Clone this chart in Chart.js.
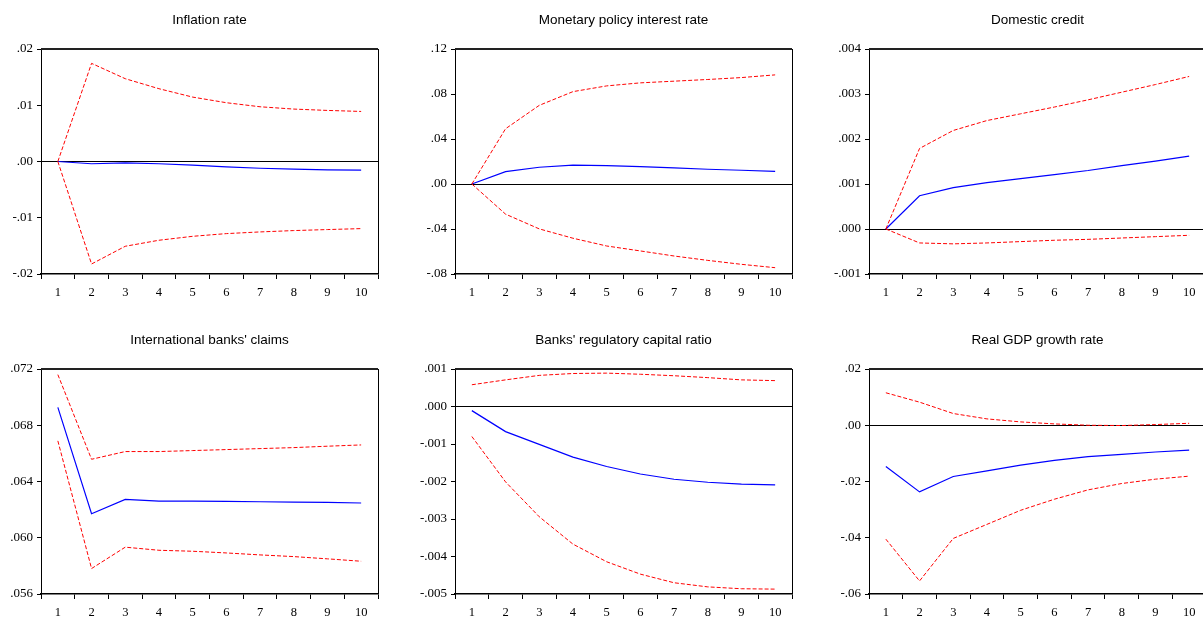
<!DOCTYPE html>
<html>
<head>
<meta charset="utf-8">
<script src="https://cdn.jsdelivr.net/npm/chart.js@4/dist/chart.umd.min.js"></script>
<style>
    body { margin: 0; background: #fff; overflow: hidden; width: 1203px; height: 617px; position: relative; }
    canvas { position: absolute; }
</style>
</head>
<body>
<canvas id="c0" width="400" height="300" style="left:0;top:0"></canvas>
<canvas id="c1" width="400" height="300" style="left:414px;top:0"></canvas>
<canvas id="c2" width="400" height="300" style="left:828px;top:0"></canvas>
<canvas id="c3" width="400" height="300" style="left:0;top:320px"></canvas>
<canvas id="c4" width="400" height="300" style="left:414px;top:320px"></canvas>
<canvas id="c5" width="400" height="300" style="left:828px;top:320px"></canvas>
<script>
    // horizon (periods after the shock)
    const periods = ['1', '2', '3', '4', '5', '6', '7', '8', '9', '10'];

    // Inflation rate
    const inflationResp  = [0, -0.0004, -0.00024, -0.0004, -0.00065, -0.00095, -0.0012, -0.00137, -0.00148, -0.00154];
    const inflationUpper = [0, 0.01745, 0.01472, 0.01294, 0.01145, 0.01045, 0.00973, 0.00932, 0.00908, 0.0089];
    const inflationLower = [0, -0.01822, -0.01507, -0.0140, -0.0133, -0.01282, -0.01252, -0.01228, -0.0121, -0.01193];
    const inflationTicks = [-0.02, -0.01, 0, 0.01, 0.02];
    const inflationTickLabels = ['-.02', '-.01', '.00', '.01', '.02'];

    // Monetary policy interest rate
    const policyResp  = [0, 0.0110, 0.0149, 0.0167, 0.0164, 0.0155, 0.0143, 0.0131, 0.0122, 0.0113];
    const policyUpper = [0, 0.0491, 0.0699, 0.0821, 0.0872, 0.0899, 0.0914, 0.0929, 0.0946, 0.0970];
    const policyLower = [0, -0.0268, -0.0399, -0.0482, -0.0551, -0.0595, -0.0640, -0.0679, -0.0714, -0.0744];
    const policyTicks = [-0.08, -0.04, 0, 0.04, 0.08, 0.12];
    const policyTickLabels = ['-.08', '-.04', '.00', '.04', '.08', '.12'];

    // Domestic credit
    const creditResp  = [0, 0.00074, 0.00092, 0.00103, 0.00112, 0.00121, 0.0013, 0.00141, 0.00151, 0.00162];
    const creditUpper = [0, 0.00179, 0.00219, 0.00241, 0.00256, 0.00271, 0.00287, 0.00304, 0.00321, 0.00339];
    const creditLower = [0, -0.00031, -0.00033, -0.00031, -0.00028, -0.00025, -0.00023, -0.0002, -0.00017, -0.00014];
    const creditTicks = [-0.001, 0, 0.001, 0.002, 0.003, 0.004];
    const creditTickLabels = ['-.001', '.000', '.001', '.002', '.003', '.004'];

    // International banks' claims
    const claimsResp  = [0.06927, 0.06171, 0.06273, 0.06261, 0.06261, 0.06258, 0.06256, 0.06254, 0.06251, 0.06247];
    const claimsUpper = [0.0716, 0.06558, 0.06613, 0.06613, 0.0662, 0.06627, 0.06634, 0.06641, 0.06651, 0.0666];
    const claimsLower = [0.06689, 0.05781, 0.05933, 0.05911, 0.05904, 0.05892, 0.05878, 0.05866, 0.0585, 0.05833];
    const claimsTicks = [0.056, 0.060, 0.064, 0.068, 0.072];
    const claimsTickLabels = ['.056', '.060', '.064', '.068', '.072'];

    // Banks' regulatory capital ratio
    const capitalResp  = [-0.00011, -0.00067, -0.00101, -0.00135, -0.0016, -0.0018, -0.00194, -0.00202, -0.00207, -0.00209];
    const capitalUpper = [0.00058, 0.00071, 0.00083, 0.00088, 0.00089, 0.00086, 0.00082, 0.00077, 0.00071, 0.00069];
    const capitalLower = [-0.0008, -0.00201, -0.00294, -0.00367, -0.00414, -0.00447, -0.0047, -0.00481, -0.00486, -0.00487];
    const capitalTicks = [-0.005, -0.004, -0.003, -0.002, -0.001, 0, 0.001];
    const capitalTickLabels = ['-.005', '-.004', '-.003', '-.002', '-.001', '.000', '.001'];

    // Real GDP growth rate
    const gdpResp  = [-0.01464, -0.02369, -0.01821, -0.01619, -0.01417, -0.0125, -0.01119, -0.01036, -0.00952, -0.00881];
    const gdpUpper = [0.01155, 0.00821, 0.00417, 0.00226, 0.00119, 0.00048, 0.0, -0.0001, 0.00024, 0.0007];
    const gdpLower = [-0.0405, -0.05536, -0.04024, -0.03524, -0.03024, -0.0263, -0.02298, -0.02071, -0.01917, -0.0181];
    const gdpTicks = [-0.06, -0.04, -0.02, 0, 0.02];
    const gdpTickLabels = ['-.06', '-.04', '-.02', '.00', '.02'];

    const serif = '"Liberation Serif", "Times New Roman", serif';
    const sans = '"Liberation Sans", Arial, sans-serif';

    // top + right frame of the plot box
    const boxFrame = {
        id: 'boxFrame',
        afterDraw: function (chart) {
            const a = chart.chartArea;
            const ctx = chart.ctx;
            ctx.save();
            ctx.strokeStyle = '#222';
            ctx.lineWidth = 2;
            ctx.beginPath();
            ctx.moveTo(a.left, a.top);
            ctx.lineTo(a.right, a.top);
            ctx.stroke();
            ctx.lineWidth = 1;
            ctx.strokeStyle = '#000';
            ctx.beginPath();
            ctx.moveTo(a.right + 0.5, a.top);
            ctx.lineTo(a.right + 0.5, a.bottom);
            ctx.stroke();
            ctx.restore();
        }
    };

    function makePanel(id, title, resp, upper, lower, ticks, tickLabels) {
        const ctx = document.getElementById(id).getContext('2d');
        const band = {
            borderColor: '#ff0000',
            borderWidth: 1,
            borderDash: [4, 2],
            pointRadius: 0,
            tension: 0,
            fill: false
        };
        return new Chart(ctx, {
            type: 'line',
            data: {
                labels: periods,
                datasets: [
                    Object.assign({ label: 'Upper', data: upper }, band),
                    Object.assign({ label: 'Lower', data: lower }, band),
                    {
                        label: 'Response',
                        data: resp,
                        borderColor: '#0000ff',
                        borderWidth: 1.2,
                        pointRadius: 0,
                        tension: 0,
                        fill: false
                    }
                ]
            },
            options: {
                responsive: false,
                animation: false,
                layout: { padding: { left: 0, right: 22, top: 0, bottom: 0 } },
                plugins: {
                    legend: { display: false },
                    tooltip: { enabled: false },
                    title: {
                        display: true,
                        text: title,
                        color: '#000',
                        fullSize: false,
                        font: { family: sans, size: 13.5, weight: 'normal' },
                        padding: { top: 12, bottom: 20.8 }
                    }
                },
                scales: {
                    x: {
                        type: 'category',
                        offset: true,
                        grid: {
                            offset: true,
                            drawOnChartArea: false,
                            drawTicks: true,
                            tickLength: 5,
                            color: '#000'
                        },
                        border: { display: true, color: '#000', width: 1.5 },
                        ticks: {
                            color: '#000',
                            font: { family: serif, size: 12.5 },
                            padding: 6,
                            maxRotation: 0,
                            autoSkip: false
                        },
                        afterFit: function (s) { s.height = 26; }
                    },
                    y: {
                        type: 'linear',
                        min: ticks[0],
                        max: ticks[ticks.length - 1],
                        afterBuildTicks: function (s) {
                            s.ticks = ticks.map(v => ({ value: v }));
                        },
                        grid: {
                            drawTicks: true,
                            tickLength: 4,
                            tickColor: '#000',
                            lineWidth: 1,
                            color: function (c) {
                                return c.tick && c.tick.value === 0 ? '#000' : 'rgba(0,0,0,0)';
                            }
                        },
                        border: { display: true, color: '#000', width: 1 },
                        ticks: {
                            color: '#000',
                            font: { family: serif, size: 13 },
                            padding: 4,
                            callback: function (value, index) {
                                return tickLabels[index];
                            }
                        },
                        afterFit: function (s) { s.width = 41; }
                    }
                }
            },
            plugins: [boxFrame]
        });
    }

    makePanel('c0', 'Inflation rate', inflationResp, inflationUpper, inflationLower, inflationTicks, inflationTickLabels);
    makePanel('c1', 'Monetary policy interest rate', policyResp, policyUpper, policyLower, policyTicks, policyTickLabels);
    makePanel('c2', 'Domestic credit', creditResp, creditUpper, creditLower, creditTicks, creditTickLabels);
    makePanel('c3', "International banks' claims", claimsResp, claimsUpper, claimsLower, claimsTicks, claimsTickLabels);
    makePanel('c4', "Banks' regulatory capital ratio", capitalResp, capitalUpper, capitalLower, capitalTicks, capitalTickLabels);
    makePanel('c5', 'Real GDP growth rate', gdpResp, gdpUpper, gdpLower, gdpTicks, gdpTickLabels);
</script>
</body>
</html>
